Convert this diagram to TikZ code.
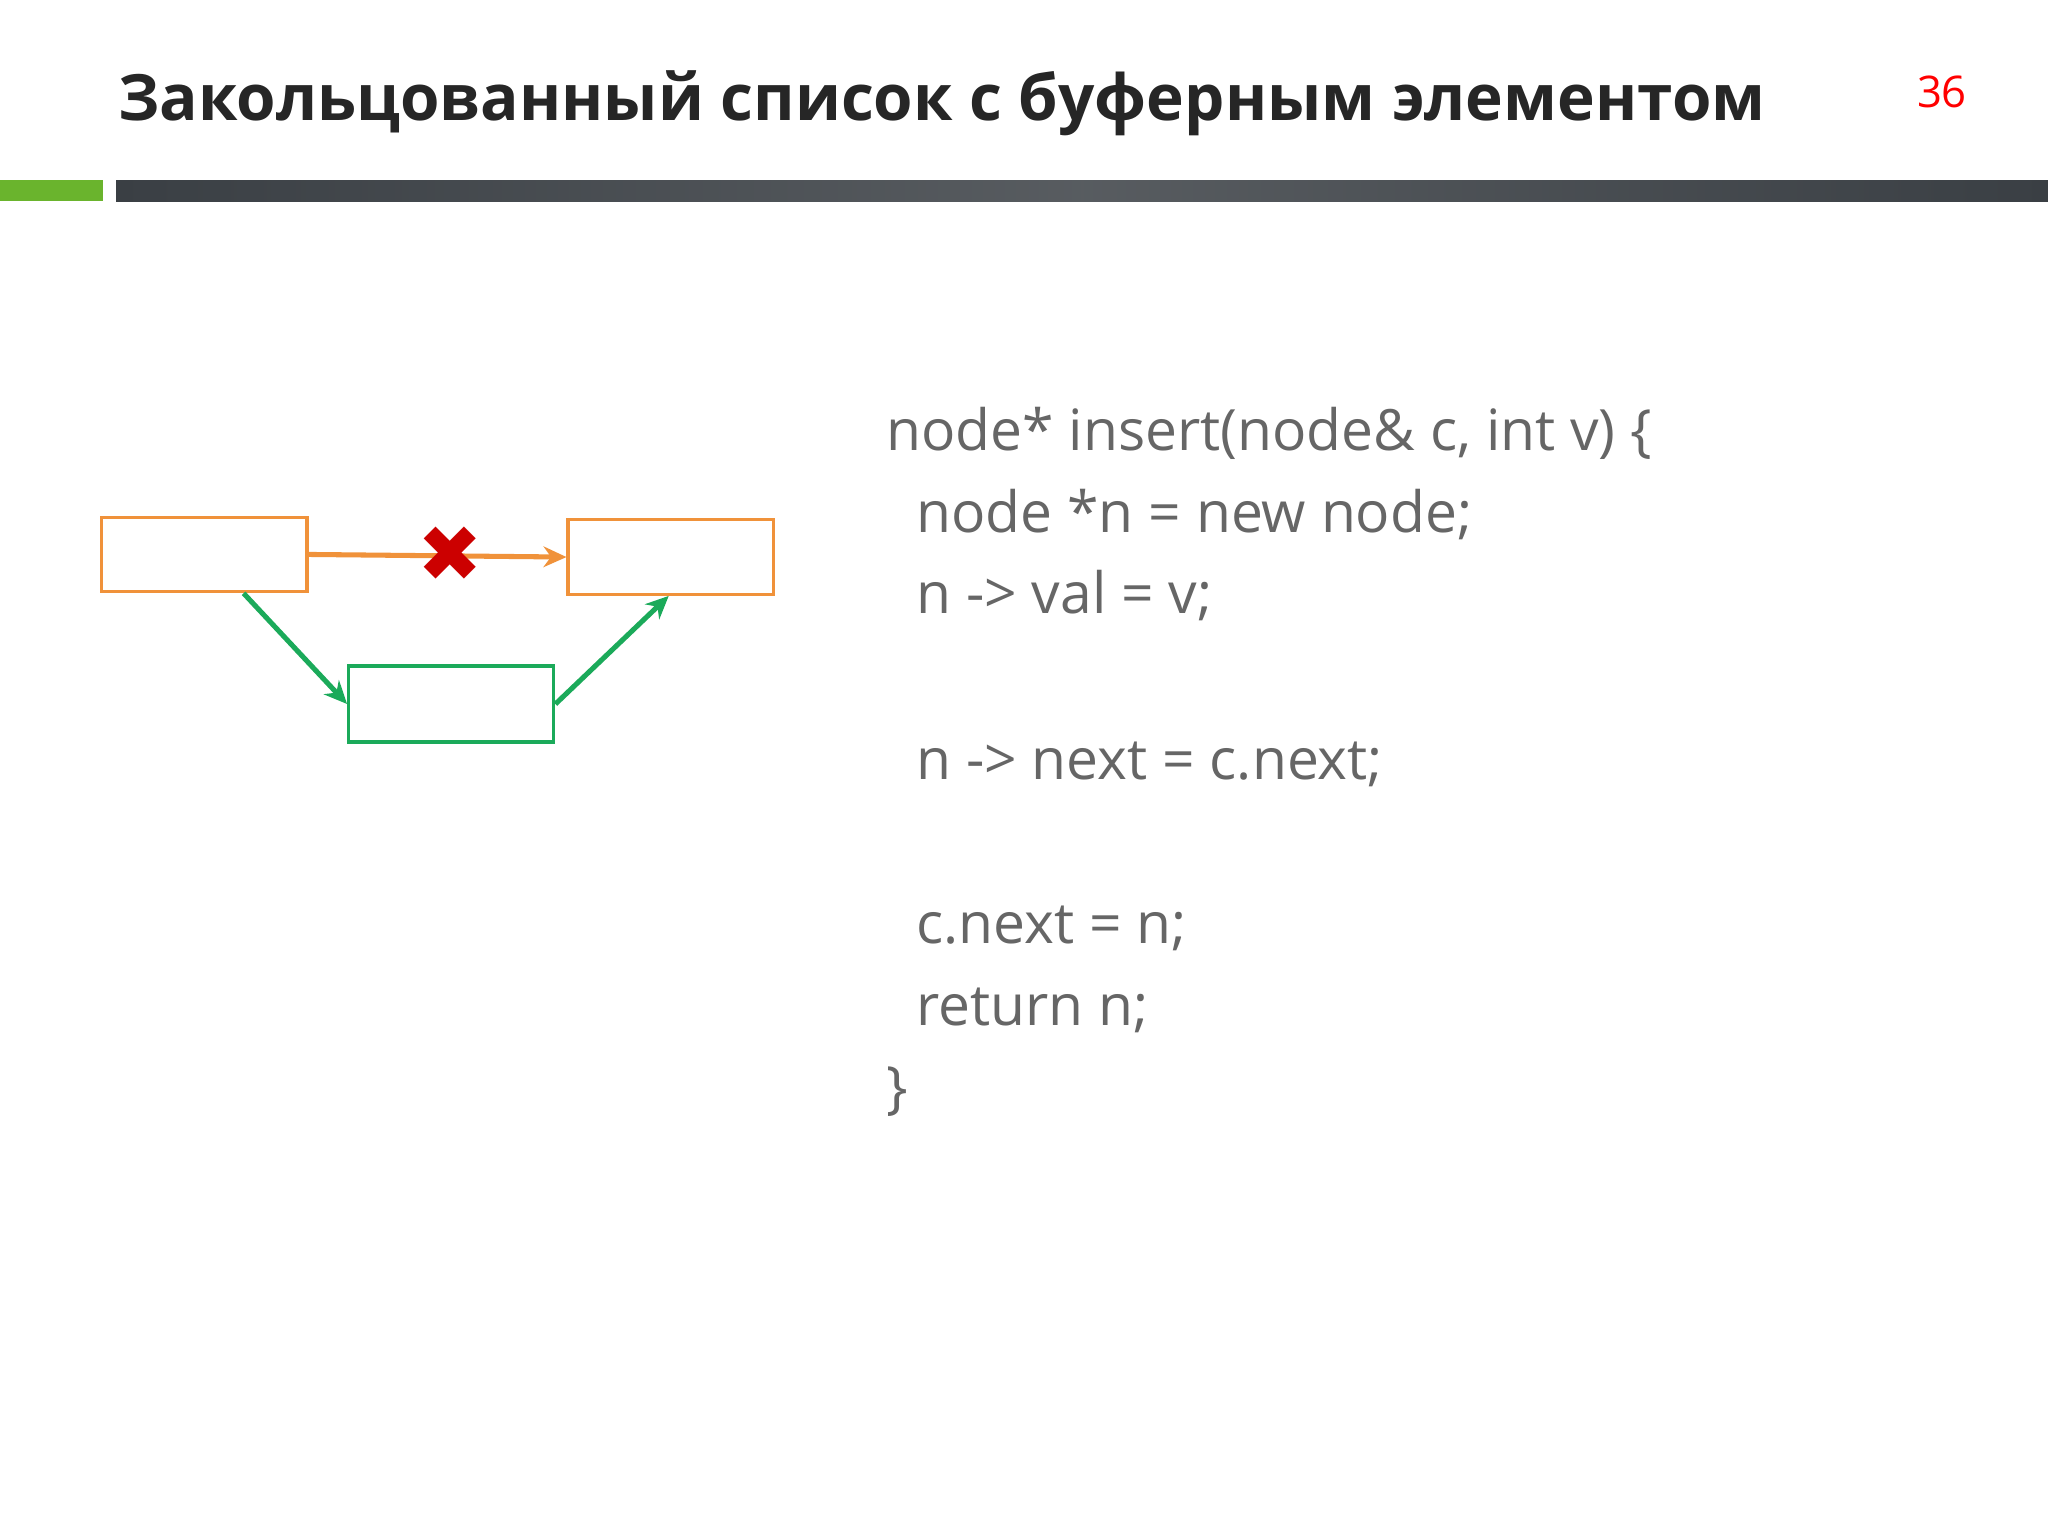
\documentclass[tikz,border=0pt]{standalone}
\usepackage{fontspec}
\setmainfont{Open Sans}
\newfontfamily\djv{DejaVu Sans}
\usetikzlibrary{arrows.meta}
\definecolor{orng}{HTML}{F0923A}
\definecolor{grn}{HTML}{1BAA5A}
\definecolor{codeg}{HTML}{666666}
\definecolor{lgreen}{HTML}{6AB42D}
\definecolor{dbar}{HTML}{3A3F44}
\begin{document}
\begin{tikzpicture}[x=0.01cm,y=-0.01cm,
  obox/.style={draw=orng,line width=0.7pt,minimum width=1.57cm,minimum height=0.57cm,inner sep=0,fill=white},
  gbox/.style={draw=grn,line width=0.7pt,minimum width=1.57cm,minimum height=0.58cm,inner sep=0,fill=white},
  oarr/.style={orng,line width=1.1pt,-{Stealth[length=5pt,width=4.5pt]}},
  garr/.style={grn,line width=1.1pt,-{Stealth[length=5pt,width=4.5pt]}},
  code/.style={anchor=base west,inner sep=0,text=codeg,font=\fontsize{12.4pt}{15pt}\selectfont}]
\useasboundingbox (0,0) rectangle (1568,1176);
\fill[white] (0,0) rectangle (1568,1176);
\node[anchor=base west,inner sep=0,font=\bfseries\fontsize{13.9pt}{17pt}\selectfont,text=black!85] (title) at (90,92) {Закольцованный список с буферным элементом};
\node[anchor=base west,inner sep=0,text=red,font=\fontsize{9.5pt}{11pt}\selectfont] (num) at (1467,82) {36};
\fill[lgreen] (0,138) rectangle (79,154);
\shade[left color=dbar,right color=dbar,middle color=dbar!85!white] (89,138) rectangle (1568,154);
\node[obox] (a) at (156.5,424.5) {};
\node[obox] (b) at (513.5,426.5) {};
\node[gbox] (c) at (345.5,539) {};
\draw[oarr] (a.east) -- (b.west);
\node[text=red!80!black,font=\djv\fontsize{17pt}{19pt}\selectfont,inner sep=0] (x) at (345,424) {✖};
\draw[garr] ([xshift=0.3cm]a.south) -- (c.west);
\draw[garr] (c.east) -- ([xshift=-0.015cm]b.south);
\node[code] (l1) at (678,345) {node* insert(node\& c, int v) \{};
\node[code] (l2) at (701,408) {node *n = new node;};
\node[code] (l3) at (701,470) {n -> val = v;};
\node[code] (l4) at (701,597) {n -> next = c.next;};
\node[code] (l5) at (701,722) {c.next = n;};
\node[code] (l6) at (701,785) {return n;};
\node[code] (l7) at (678,848) {\}};
\end{tikzpicture}
\end{document}
